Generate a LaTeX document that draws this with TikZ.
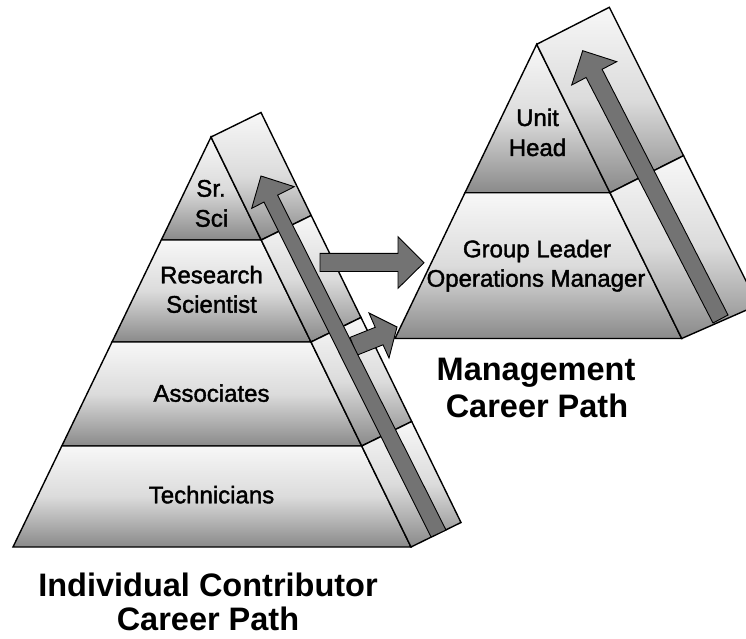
\documentclass[tikz,border=0pt]{standalone}
\usepackage{fontspec}
\setmainfont{Liberation Sans}
\newfontfamily\lblfont{Liberation Sans}[FakeBold=1.6]
\begin{document}
\begin{tikzpicture}[x=1pt,y=-1pt,
  layer/.style={draw=black, line width=1.4pt, line join=miter, top color=black!3, bottom color=black!46, middle color=black!14},
  bigarrow/.style={draw=black, line width=0.9pt, line join=miter, fill=black!55},
  lbl/.style={anchor=base, inner sep=0pt, font=\lblfont\fontsize{24}{29}\selectfont},
  ttl/.style={anchor=base, inner sep=0pt, font=\bfseries\fontsize{32.5}{37}\selectfont}]
\useasboundingbox (0,0) rectangle (746,639);
\clip (0,0) rectangle (746,639);
% ---------- left pyramid: front layers
\path[layer] (211,137) -- (261.2,240) -- (161.3,240) -- cycle;
\path[layer] (161.3,240) -- (261.2,240) -- (311,342) -- (112,342) -- cycle;
\path[layer] (112,342) -- (311,342) -- (361.7,446) -- (61.8,446) -- cycle;
\path[layer] (61.8,446) -- (361.7,446) -- (411,547) -- (13,547) -- cycle;
% ---------- left pyramid: side segments
\path[layer] (211,137) -- (261,112.5) -- (311.2,215.5) -- (261.2,240) -- cycle;
\path[layer] (261.2,240) -- (311.2,215.5) -- (361,317.5) -- (311,342) -- cycle;
\path[layer] (311,342) -- (361,317.5) -- (411.7,421.5) -- (361.7,446) -- cycle;
\path[layer] (361.7,446) -- (411.7,421.5) -- (461,522.5) -- (411,547) -- cycle;
% ---------- right pyramid: front layers
\path[layer] (536.7,44.3) -- (610,192.7) -- (465,192.7) -- cycle;
\path[layer] (465,192.7) -- (610,192.7) -- (681.7,338.5) -- (395,338.5) -- cycle;
% ---------- right pyramid: side segments
\path[layer] (536.7,44.3) -- (609.3,7.3) -- (683.5,155.7) -- (610,192.7) -- cycle;
\path[layer] (610,192.7) -- (683.5,155.7) -- (758,305) -- (681.7,338.5) -- cycle;
% ---------- arrows between the pyramids
\path[bigarrow] (350,337.4) -- (375.2,327.3) -- (369,313) -- (397,327) -- (389,358) -- (383,344.8) -- (357,355.2) -- cycle;
\path[bigarrow] (320,253.3) -- (398,253.3) -- (398,236.7) -- (424,262.7) -- (398,288.3) -- (398,271.5) -- (320,271.5) -- cycle;
% ---------- career path arrows on the side faces
\path[bigarrow] (261,176) -- (294.3,186.7) -- (277.6,195.2) -- (446,530) -- (431,537) -- (264,202.1) -- (251.7,208.3) -- cycle;
\path[bigarrow] (582.7,50.7) -- (616.7,61.7) -- (602.1,69.3) -- (728,315) -- (713,323) -- (586.1,77.5) -- (571.7,85) -- cycle;
% ---------- labels, left pyramid
\node[lbl] (sr) at (211,196.7) {Sr.};
\node[lbl] (sci) at (211.5,226.7) {Sci};
\node[lbl] (res) at (211.5,283.3) {Research};
\node[lbl] (scientist) at (211.5,312.7) {Scientist};
\node[lbl] (assoc) at (211.5,401.7) {Associates};
\node[lbl] (tech) at (211.5,503.3) {Technicians};
% ---------- labels, right pyramid
\node[lbl] (unit) at (537.5,126) {Unit};
\node[lbl] (head) at (537.5,156) {Head};
\node[lbl] (group) at (537,257.3) {Group Leader};
\node[lbl] (ops) at (536,286.7) {Operations Manager};
% ---------- titles
\node[ttl] (mgmt1) at (536,380) {Management};
\node[ttl] (mgmt2) at (537,417) {Career Path};
\node[ttl] (ic1) at (208,596) {Individual Contributor};
\node[ttl] (ic2) at (208,630) {Career Path};
\end{tikzpicture}
\end{document}
